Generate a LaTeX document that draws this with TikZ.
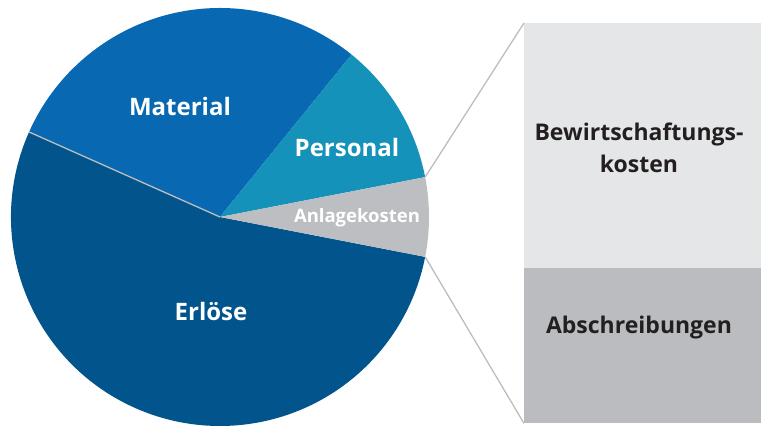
\documentclass[tikz,border=0pt]{standalone}
\usepackage{fontspec}
\setmainfont{Open Sans}
\usetikzlibrary{calc}
\definecolor{erloese}{HTML}{02558C}
\definecolor{material}{HTML}{0868B1}
\definecolor{personal}{HTML}{1592BA}
\definecolor{anlage}{HTML}{BDBEC1}
\definecolor{bewirt}{HTML}{E5E6E8}
\definecolor{abschr}{HTML}{BBBCC0}
\definecolor{schrift}{HTML}{231F20}
\definecolor{linie}{HTML}{BDBDBD}
\tikzset{
  slicelabel/.style={text=white,font=\bfseries\fontsize{24}{28}\selectfont},
  boxlabel/.style={text=schrift,font=\bfseries\fontsize{23}{32}\selectfont,align=center},
  kasten/.style={minimum width=237pt,inner sep=0pt,anchor=north west},
  zoomline/.style={draw=linie,line width=1.3pt}
}
\begin{document}
\begin{tikzpicture}[x=1pt,y=1pt]
			\useasboundingbox (0,0) rectangle (764,430);
			\coordinate (O) at (220,213);
			\coordinate (P1) at ($(O)+(11:209)$);
			\coordinate (P2) at ($(O)+(-11:209)$);
			\fill[erloese] (O) -- ++(156:209) arc[start angle=156,end angle=349,radius=209pt] -- cycle;
			\fill[material] (O) -- ++(51:209) arc[start angle=51,end angle=156,radius=209pt] -- cycle;
			\fill[personal] (O) -- ++(11:209) arc[start angle=11,end angle=51,radius=209pt] -- cycle;
			\fill[anlage] (O) -- ++(-11:209) arc[start angle=-11,end angle=11,radius=209pt] -- cycle;
			\draw[linie,line width=1.3pt] (O) -- ++(156:209);
			\node[kasten,fill=bewirt,minimum height=245pt] (B) at (524,407) {};
			\node[kasten,fill=abschr,minimum height=155pt] (A) at (524,162) {};
			\draw[zoomline] (P1) -- (B.north west);
			\draw[zoomline] (P2) -- (A.south west);
			\node[slicelabel] (m) at (180,323) {Material};
			\node[slicelabel] (p) at (347,282) {Personal};
			\node[slicelabel,font=\bfseries\fontsize{18.5}{22}\selectfont] (k) at (357,212) {Anlagekosten};
			\node[slicelabel] (e) at (211,118) {Erlöse};
			\node[boxlabel] (bk) at (639,282) {Bewirtschaftungs-\\kosten};
			\node[boxlabel] (ab) at (639,102) {Abschreibungen};
		\end{tikzpicture}
\end{document}
